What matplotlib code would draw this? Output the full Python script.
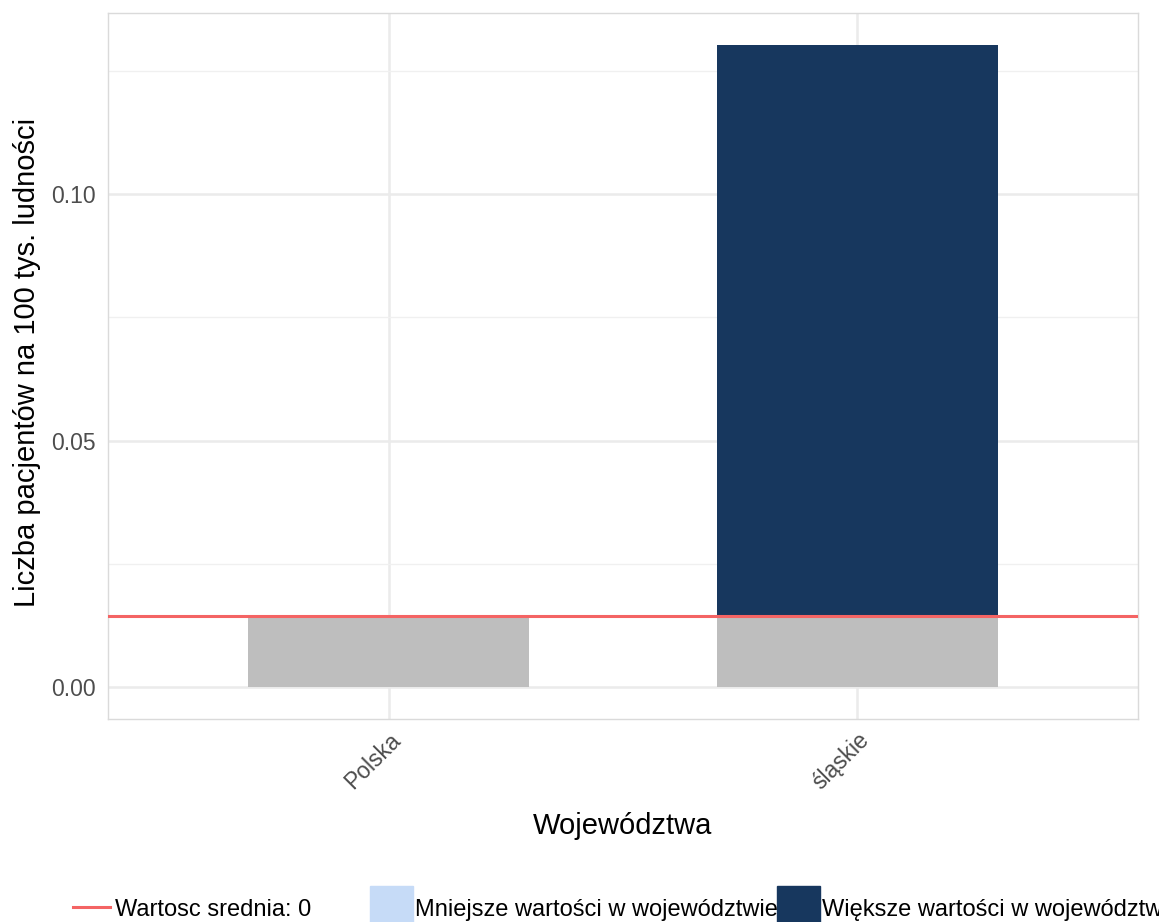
import matplotlib
matplotlib.use("Agg")
import matplotlib.pyplot as plt
from matplotlib.lines import Line2D
from matplotlib.patches import Rectangle

plt.rcParams['font.family'] = ['Liberation Sans', 'DejaVu Sans']

# data
categories = ["Polska", "śląskie"]
base_values = [0.01443, 0.01443]      # part up to the mean (grey)
excess_values = [0.0, 0.11585]        # part above the mean (navy)
mean_value = 0.01443
legend_labels = ["Wartosc srednia: 0",
                 "Mniejsze wartości w województwie",
                 "Większe wartości w województwie"]

W, H = 1159, 922
fig = plt.figure(figsize=(W / 100, H / 100), dpi=100)
fig.patch.set_facecolor("white")


def fx(px):
    return px / W


def fy(py):
    return 1 - py / H


ax = fig.add_axes([fx(108), fy(719), fx(1138) - fx(108), fy(13) - fy(719)])

grey = "#BEBEBE"
navy = "#17375E"
light = "#C6DBF7"
red = "#F46464"

x = list(range(len(categories)))
ax.bar(x, base_values, width=0.6, color=grey, zorder=2)
ax.bar(x, excess_values, width=0.6, bottom=base_values, color=navy, zorder=2)
ax.axhline(mean_value, color=red, lw=2.2, zorder=3)

ax.set_xlim(-0.6, 1.6)
ax.set_ylim(-0.0065, 0.1368)
ax.set_yticks([0.0, 0.05, 0.10])
ax.set_yticklabels(["0.00", "0.05", "0.10"])
ax.set_yticks([0.025, 0.075, 0.125], minor=True)
ax.set_xticks(x)
ax.set_xticklabels(categories, rotation=45, ha="right", va="top",
                   rotation_mode="anchor")

ax.grid(True, which="major", color="#EBEBEB", lw=1.8, zorder=0)
ax.grid(True, which="minor", axis="y", color="#F0F0F0", lw=1.0, zorder=0)
ax.set_axisbelow(True)
ax.tick_params(axis="both", which="both", length=0, labelsize=16.5,
               labelcolor="#4D4D4D")
ax.tick_params(axis="y", pad=9)
ax.tick_params(axis="x", pad=7)
for lbl in ax.get_xticklabels():
    lbl.set_x(lbl.get_position()[0])
for s in ax.spines.values():
    s.set_color("#DADADA")
    s.set_linewidth(1.0)

fig.text(fx(623), fy(834), "Województwa", fontsize=21, ha="center",
         va="baseline", color="black")
fig.text(fx(35), fy(362), "Liczba pacjentów na 100 tys. ludności",
         fontsize=21, rotation=90, rotation_mode="anchor", ha="center",
         va="baseline", color="black")

# legend drawn at the bottom, running off the right edge like the original
fig.add_artist(Line2D([fx(73), fx(110)], [fy(907), fy(907)], color=red,
                      lw=2.2, transform=fig.transFigure))
fig.text(fx(115), fy(916), legend_labels[0], fontsize=17, va="baseline")
fig.add_artist(Rectangle((fx(370), fy(929)), fx(43), 43 / H, color=light,
                         transform=fig.transFigure))
fig.text(fx(415), fy(916), legend_labels[1], fontsize=17, va="baseline")
fig.add_artist(Rectangle((fx(777), fy(929)), fx(43), 43 / H, color=navy,
                         transform=fig.transFigure))
fig.text(fx(822), fy(916), legend_labels[2], fontsize=17, va="baseline")

fig.savefig("out.png", dpi=100)
